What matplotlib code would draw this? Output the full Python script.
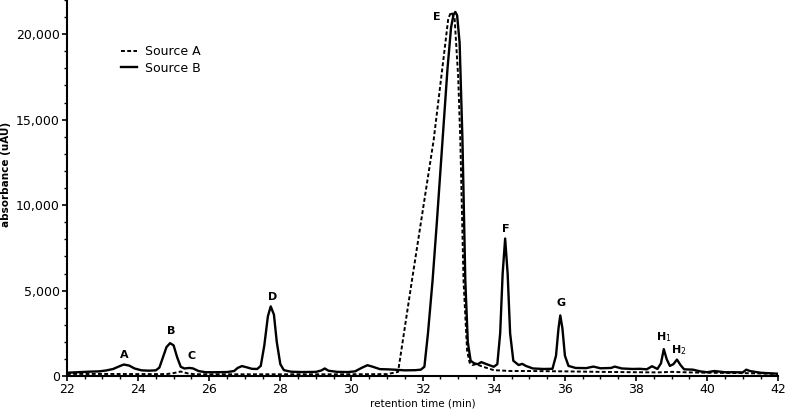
import numpy as np
import matplotlib
matplotlib.use("Agg")
import matplotlib.pyplot as plt
from matplotlib.ticker import MultipleLocator, FuncFormatter

# Source B (solid) - retention time (min) and absorbance (uAU)
time_b = [22.0, 22.3, 22.6, 22.9, 23.1, 23.3, 23.5, 23.6, 23.75, 23.9, 24.1, 24.3,
          24.5, 24.6, 24.7, 24.8, 24.9, 25.0, 25.1, 25.2, 25.3, 25.45, 25.55, 25.7,
          25.9, 26.2, 26.5, 26.7, 26.8, 26.92, 27.05, 27.2, 27.35, 27.45, 27.55,
          27.65, 27.73, 27.82, 27.9, 28.0, 28.1, 28.3, 28.6, 29.0, 29.15, 29.25,
          29.35, 29.6, 29.9, 30.1, 30.3, 30.45, 30.6, 30.8, 31.0, 31.2, 31.5, 31.8,
          31.95, 32.05, 32.15, 32.28, 32.4, 32.56, 32.7, 32.8, 32.87, 32.92, 32.97,
          33.04, 33.12, 33.2, 33.27, 33.35, 33.45, 33.55, 33.65, 33.8, 34.0, 34.1,
          34.18, 34.25, 34.32, 34.39, 34.46, 34.55, 34.7, 34.8, 34.9, 35.1, 35.4,
          35.65, 35.75, 35.82, 35.87, 35.93, 36.0, 36.1, 36.3, 36.6, 36.8, 37.0,
          37.3, 37.4, 37.6, 37.9, 38.1, 38.3, 38.45, 38.6, 38.7, 38.78, 38.86,
          38.95, 39.05, 39.15, 39.25, 39.35, 39.6, 39.8, 40.0, 40.2, 40.5, 40.8,
          41.0, 41.1, 41.2, 41.5, 42.0]
abs_b = [200, 230, 260, 280, 330, 420, 600, 680, 620, 450, 340, 320,
         340, 500, 1100, 1700, 1930, 1800, 1100, 550, 450, 480, 450, 300,
         230, 230, 240, 300, 480, 590, 520, 430, 420, 600, 1800,
         3500, 4080, 3600, 2000, 700, 350, 260, 240, 250, 330, 450,
         320, 250, 240, 280, 500, 640, 550, 410, 400, 380, 340, 350,
         380, 550, 2500, 5600, 9000, 13800, 18000, 20400, 21150, 21300, 21100,
         19500, 13800, 5600, 2000, 900, 750, 700, 820, 700, 550, 700,
         2500, 6000, 8050, 6000, 2500, 900, 650, 720, 600, 450, 420,
         430, 1200, 2800, 3550, 2800, 1200, 600, 480, 470, 560, 460,
         480, 560, 450, 420, 430, 400, 580, 420, 750, 1580, 1000,
         600, 700, 970, 650, 400, 380, 280, 230, 300, 230, 230,
         220, 380, 300, 200, 140]

# Source A (dashed)
time_a = [22.0, 23.0, 24.0, 24.8, 25.0, 25.2, 25.4, 25.6, 26.0, 28.0, 30.0, 31.0,
          31.31, 31.7, 32.31, 32.6, 32.72, 32.8, 32.9, 33.0, 33.06, 33.15, 33.25,
          33.32, 33.4, 33.5, 33.7, 34.0, 34.5, 35.0, 36.0, 37.0, 38.0, 38.6, 39.0,
          39.5, 40.0, 41.0, 42.0]
abs_a = [130, 130, 120, 120, 180, 270, 160, 110, 110, 110, 110, 120,
         250, 5600, 13800, 18800, 20900, 21300, 20900, 17500, 13800, 5600, 1500,
         800, 650, 700, 550, 350, 300, 300, 280, 250, 230, 220, 250,
         220, 200, 180, 130]

peak_names = ["A", "B", "C", "D", "E", "F", "G", "H$_1$", "H$_2$"]
peak_x = [23.62, 24.94, 25.5, 27.77, 32.39, 34.35, 35.89, 38.78, 39.2]
peak_y = [1210, 2620, 1150, 4620, 21020, 8590, 4250, 2270, 1500]

fig = plt.figure(figsize=(7.87, 4.12), dpi=100)
ax = fig.add_axes([0.085, 0.087, 0.904, 0.913])

ax.plot(time_a, abs_a, color="black", lw=1.4, linestyle=(0, (2.0, 1.2)), label="Source A")
ax.plot(time_b, abs_b, color="black", lw=1.7, label="Source B")

for name, px, py in zip(peak_names, peak_x, peak_y):
    ax.text(px, py, name, ha="center", va="center", fontsize=8, fontweight="bold")

ax.set_xlim(22, 42)
ax.set_ylim(0, 22000)
ax.xaxis.set_major_locator(MultipleLocator(2))
ax.xaxis.set_minor_locator(MultipleLocator(0.5))
ax.yaxis.set_major_locator(MultipleLocator(5000))
ax.yaxis.set_minor_locator(MultipleLocator(1000))
ax.yaxis.set_major_formatter(FuncFormatter(lambda v, p: f"{int(v):,}"))

for side in ["top", "right"]:
    ax.spines[side].set_visible(False)
for side in ["left", "bottom"]:
    ax.spines[side].set_linewidth(1.5)

ax.tick_params(which="major", length=3.5, width=1.2, labelsize=9, pad=1.5)
ax.tick_params(which="minor", length=2.5, width=1.0)

ax.set_xlabel("retention time (min)", fontsize=7.5, labelpad=2)
ax.set_ylabel("absorbance (uAU)", fontsize=7.5, fontweight="bold")
ax.yaxis.set_label_coords(-0.078, 0.535)

ax.legend(loc="upper left", bbox_to_anchor=(0.06, 0.91), frameon=False,
          fontsize=9, handlelength=1.3, handletextpad=0.6, labelspacing=0.3)

fig.savefig("out.png", dpi=100)
